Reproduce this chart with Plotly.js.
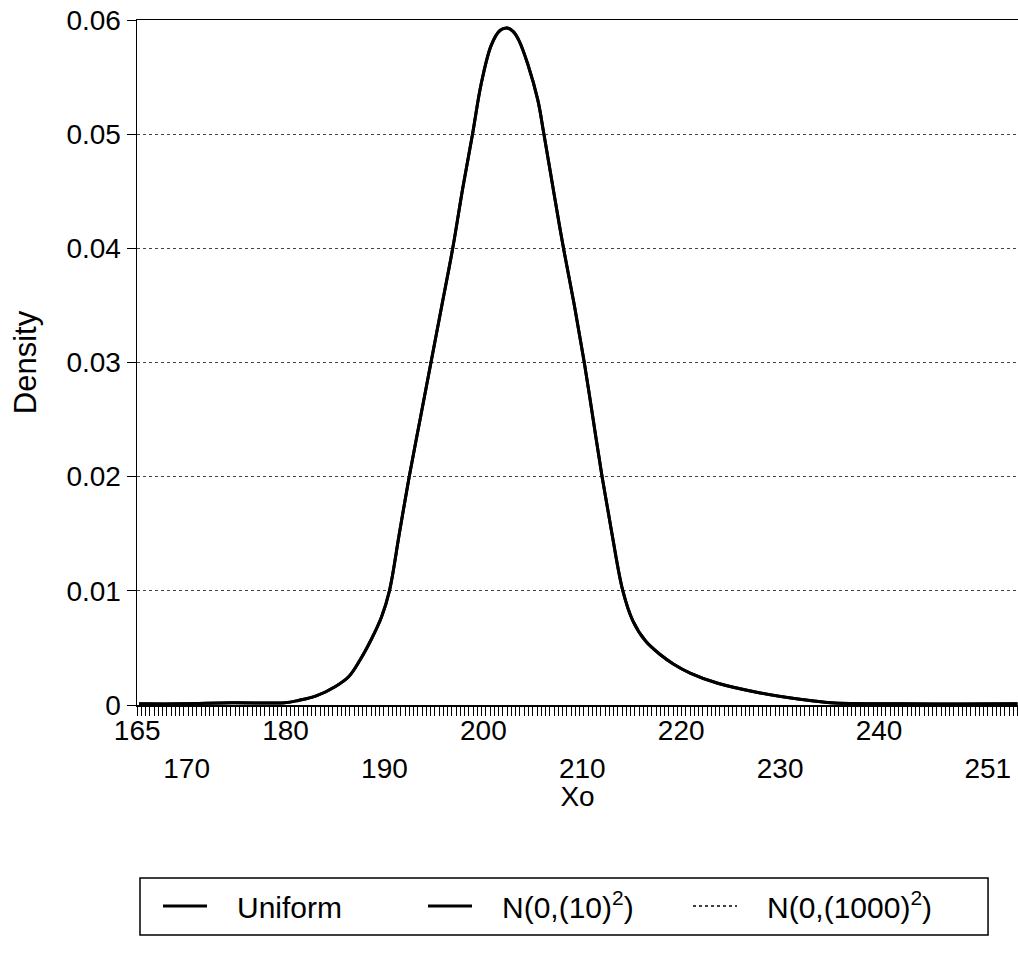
<!DOCTYPE html>
<html>
<head>
<meta charset="utf-8">
<script src="https://cdn.plot.ly/plotly-3.0.1.min.js"></script>
<style>html,body{margin:0;padding:0;background:#fff;}#chart{width:1018px;height:962px;}</style>
</head>
<body>
<div id="chart"></div>
<script>
// Values
const xo = [165.2, 169.5, 174.6, 179.9, 181.3, 183.1, 185.0, 186.4, 187.5, 188.7, 189.7, 190.5,
            191.5, 192.5, 193.6, 194.7, 195.8, 196.9, 197.9, 198.9, 199.8, 200.8, 201.7, 202.4,
            203.0, 203.6, 204.5, 205.5, 206.1, 207.1, 208.1, 209.2, 210.2, 211.1, 212.0, 213.0,
            214.1, 215.1, 216.4, 217.9, 219.2, 220.9, 223.7, 228.0, 232.0, 235.1, 242.1, 254.0];
const densityUniform = [0.0001, 0.0001, 0.0002, 0.0002, 0.0004, 0.0008, 0.0016, 0.0025, 0.0039, 0.0058, 0.0077, 0.0100,
            0.0150, 0.0200, 0.0250, 0.0300, 0.0350, 0.0400, 0.0452, 0.0500, 0.0545, 0.0578, 0.0591, 0.0593,
            0.0590, 0.0582, 0.0561, 0.0530, 0.0501, 0.0450, 0.0400, 0.0350, 0.0300, 0.0250, 0.0200, 0.0150,
            0.0100, 0.0074, 0.0056, 0.0044, 0.0036, 0.0028, 0.0019, 0.00105, 0.0005, 0.0002, 0.0001, 0.0001];
const densityN10 = densityUniform.slice();
const densityN1000 = densityUniform.slice();

const seriesNames = ['Uniform', 'N(0,(10)<sup>2</sup>)', 'N(0,(1000)<sup>2</sup>)'];
const xTicksUpper = [165, 180, 200, 220, 240];
const xTicksLower = [170, 190, 210, 230, 251];
const yTicks = [0, 0.01, 0.02, 0.03, 0.04, 0.05, 0.06];

const FONT = 'Liberation Sans, Arial, Helvetica, sans-serif';
const PAD = '\u00A0\u00A0\u00A0';

const lineStyle = {color: '#000', width: 3, shape: 'spline', smoothing: 1};
const traces = [
  {x: xo, y: densityUniform, name: PAD + seriesNames[0], mode: 'lines', line: lineStyle, hoverinfo: 'skip'},
  {x: xo, y: densityN10, name: PAD + seriesNames[1], mode: 'lines', line: lineStyle, hoverinfo: 'skip'},
  {x: xo, y: densityN1000, name: PAD + seriesNames[2], mode: 'lines', line: {color: '#000', width: 1.5, dash: 'dot', shape: 'spline', smoothing: 1}, hoverinfo: 'skip'},
  {x: xo, y: densityUniform, xaxis: 'x2', mode: 'lines', opacity: 0, showlegend: false, hoverinfo: 'skip', line: {width: 1}}
];

const xRange = [164.98, 254.05];

const layout = {
  width: 1018, height: 962,
  margin: {l: 137, r: 0, t: 20, b: 257},
  paper_bgcolor: '#fff', plot_bgcolor: '#fff',
  font: {family: FONT, size: 28, color: '#000'},
  showlegend: true,
  xaxis: {
    type: 'linear', range: xRange, fixedrange: true,
    tickmode: 'array', tickvals: xTicksUpper, ticktext: xTicksUpper.map(String),
    ticks: '',
    minor: {dtick: 0.43, tick0: 165, ticks: 'outside', ticklen: 9, tickwidth: 1, tickcolor: '#000', showgrid: false},
    showline: true, linecolor: '#000', linewidth: 1.5, mirror: true,
    showgrid: false, zeroline: false,
    tickfont: {family: FONT, size: 28, color: '#000'},
    title: {text: 'Xo', font: {family: FONT, size: 28, color: '#000'}, standoff: 41}
  },
  xaxis2: {
    type: 'linear', range: xRange, fixedrange: true, overlaying: 'x', anchor: 'y', side: 'bottom',
    tickmode: 'array', tickvals: xTicksLower, ticktext: xTicksLower.map(String),
    ticks: 'outside', ticklen: 38, tickcolor: 'rgba(0,0,0,0)',
    showline: false, showgrid: false, zeroline: false,
    tickfont: {family: FONT, size: 28, color: '#000'}
  },
  yaxis: {
    range: [0, 0.06], fixedrange: true,
    tickmode: 'array', tickvals: yTicks, ticktext: yTicks.map(v => v === 0 ? '0' : v.toFixed(2)),
    ticks: 'outside', ticklen: 9, tickwidth: 1, tickcolor: '#000',
    showline: true, linecolor: '#000', linewidth: 1.5,
    showgrid: true, gridcolor: '#444', gridwidth: 1, griddash: 'dot',
    zeroline: false,
    tickfont: {family: FONT, size: 28, color: '#000'},
    title: {text: 'Density', font: {family: FONT, size: 31, color: '#000'}, standoff: 20}
  },
  legend: {
    orientation: 'h', x: (158 - 137) / 881, xanchor: 'left', y: -0.2934, yanchor: 'middle',
    bgcolor: 'rgba(0,0,0,0)', borderwidth: 0,
    font: {family: FONT, size: 30, color: '#000'},
    itemwidth: 44, entrywidth: 206, entrywidthmode: 'pixels',
    itemclick: false, itemdoubleclick: false
  },
  shapes: [
    {type: 'rect', xref: 'paper', yref: 'paper', x0: 0.0034, x1: 0.966, y0: -0.3358, y1: -0.2526,
     line: {color: '#000', width: 1.5}, fillcolor: 'rgba(0,0,0,0)'}
  ]
};

Plotly.newPlot('chart', traces, layout, {displayModeBar: false, staticPlot: true});
</script>
</body>
</html>
